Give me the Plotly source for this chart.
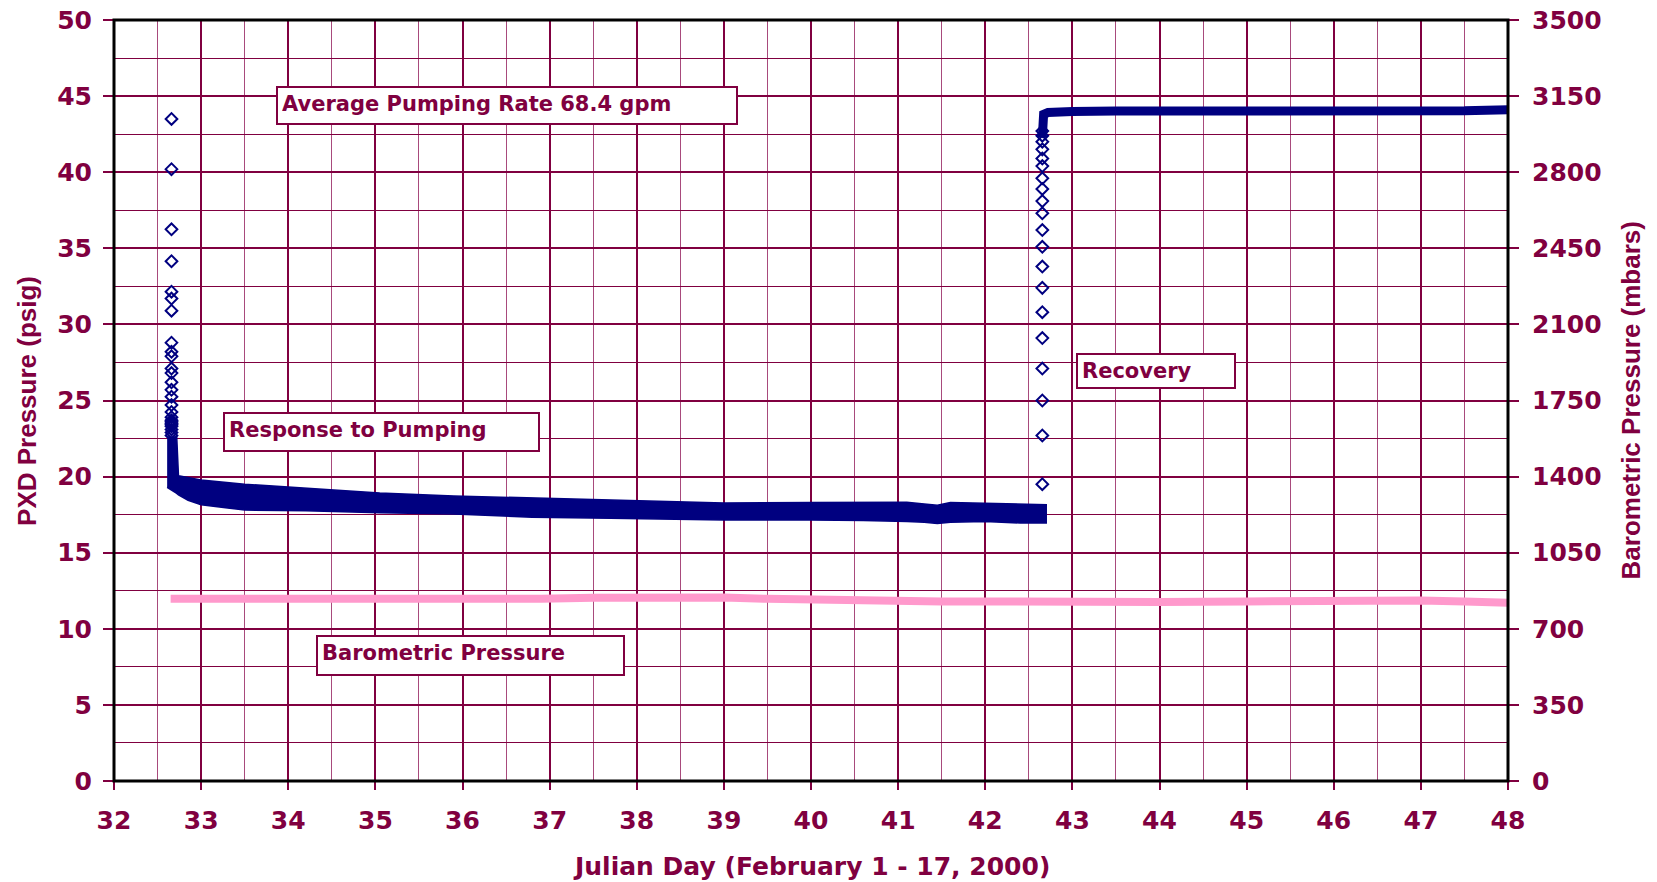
import plotly.graph_objects as go

# ---------------- data ----------------
pump_start_day = 32.66
start_psig = [43.5, 40.2, 36.25, 34.15, 32.15, 31.7, 30.9, 28.8, 28.2, 27.9, 27.1,
              26.8, 26.2, 25.7, 25.25, 24.7, 24.25, 23.9, 23.7, 23.6, 23.5, 23.4,
              23.3, 23.1, 22.9, 22.7]

# envelope of the dense pumping-period record
band_days = [32.61, 32.72, 32.74, 32.85, 33.0, 33.5, 34.2, 35.05, 35.9, 36.8, 37.7,
             39.0, 40.0, 40.6, 41.1, 41.3, 41.45, 41.6, 42.0, 42.4, 42.70]
band_upper = [22.6, 22.6, 20.05, 19.95, 19.78, 19.5, 19.25, 18.92, 18.73, 18.59, 18.46,
              18.27, 18.3, 18.33, 18.32, 18.2, 18.12, 18.3, 18.25, 18.2, 18.15]
band_lower = [19.3, 18.9, 18.8, 18.45, 18.15, 17.8, 17.75, 17.62, 17.55, 17.33, 17.26,
              17.15, 17.15, 17.12, 17.05, 17.0, 16.92, 17.0, 17.05, 16.95, 16.95]

recovery_day = 42.655
recovery_psig = [19.5, 22.7, 25.0, 27.1, 29.1, 30.8, 32.4, 33.8, 35.1, 36.2, 37.3,
                 38.1, 38.9, 39.6, 40.4, 40.9, 41.5, 42.0, 42.4, 42.7]

rec_line_days = [42.655, 42.655, 42.67, 42.72, 42.85, 43.0, 43.5, 44.0, 44.5, 45.0,
                 45.5, 46.0, 46.4, 47.0, 47.5, 48.0]
rec_line_psig = [42.3, 43.55, 43.8, 43.92, 43.97, 43.98, 44.02, 44.02, 44.03, 44.0,
                 44.0, 43.97, 43.9, 43.97, 44.03, 44.1]

baro_days = [32.65, 33.0, 34.0, 35.0, 36.0, 36.9, 37.5, 38.0, 39.0, 39.5, 40.0, 40.6,
             41.5, 42.3, 43.0, 43.3, 44.0, 45.0, 46.0, 46.6, 47.0, 47.5, 48.0]
baro_mbar = [838, 838, 834, 833, 834, 838, 843, 845, 844, 838, 834, 826,
             825, 826, 822, 818, 823, 826, 830, 832, 830, 826, 820]

x_ticks = list(range(32, 49))
y_ticks = list(range(0, 51, 5))
y2_ticks = list(range(0, 3501, 350))

# ---------------- styles ----------------
MAG = "#800040"
MAG_LIGHT = "#A84A7C"
NAVY = "#000080"
PINK = "#FF99CC"
TICKFONT = dict(family="DejaVu Sans", size=25, color=MAG, weight="bold")
ANN_FONT = dict(family="DejaVu Sans", size=21, color=MAG, weight="bold")
TITLEFONT = dict(family="Liberation Sans, Arial", size=26, color=MAG, weight="bold")

fig = go.Figure()

fig.add_trace(go.Scatter(x=baro_days, y=baro_mbar, yaxis="y2", mode="lines",
                         line=dict(color=PINK, width=8), hoverinfo="skip",
                         showlegend=False))

fig.add_trace(go.Scatter(x=band_days + band_days[::-1],
                         y=band_upper + band_lower[::-1],
                         mode="lines", fill="toself", fillcolor=NAVY,
                         line=dict(color=NAVY, width=1.5), showlegend=False))

fig.add_trace(go.Scatter(x=[pump_start_day] * len(start_psig), y=start_psig,
                         mode="markers",
                         marker=dict(symbol="diamond-open", size=9, color=NAVY,
                                     line=dict(width=2, color=NAVY)),
                         showlegend=False))

fig.add_trace(go.Scatter(x=[recovery_day] * len(recovery_psig), y=recovery_psig,
                         mode="markers",
                         marker=dict(symbol="diamond-open", size=9, color=NAVY,
                                     line=dict(width=2, color=NAVY)),
                         showlegend=False))

fig.add_trace(go.Scatter(x=rec_line_days, y=rec_line_psig, mode="lines",
                         line=dict(color=NAVY, width=9), showlegend=False))

common_axis = dict(ticks="outside", tickcolor=MAG, tickwidth=1.5,
                   tickfont=TICKFONT, zeroline=False, automargin=False,
                   ticklabeloverflow="allow")

fig.update_layout(
    width=1657, height=882,
    margin=dict(l=114, r=149, t=20, b=101),
    paper_bgcolor="white", plot_bgcolor="white",
    showlegend=False,
    xaxis=dict(range=[32, 48], tickvals=x_ticks, ticklen=8,
               showgrid=True, gridcolor=MAG, gridwidth=2,
               minor=dict(dtick=0.5, tick0=32, showgrid=True, gridcolor=MAG_LIGHT,
                          gridwidth=1, ticks=""),
               showline=False, ticklabelstandoff=9, **common_axis),
    yaxis=dict(range=[0, 50], tickvals=y_ticks, ticklen=10,
               showgrid=True, gridcolor=MAG, gridwidth=2,
               minor=dict(dtick=2.5, tick0=0, showgrid=True, gridcolor=MAG,
                          gridwidth=1, ticks=""),
               showline=False, ticklabelstandoff=6, **common_axis),
    yaxis2=dict(range=[0, 3500], tickvals=y2_ticks, ticklen=10, overlaying="y",
                side="right", showgrid=False, showline=False,
                ticklabelstandoff=8, **common_axis),
)

# black frame around the plotting area
fig.add_shape(type="rect", xref="paper", yref="paper", x0=0, y0=0, x1=1, y1=1,
              line=dict(color="black", width=3), layer="above")

def box(text, x, y, w, h):
    fig.add_annotation(text=text, x=x, y=y, xref="x", yref="y",
                       xanchor="left", yanchor="top", showarrow=False,
                       width=w - 12, height=h - 12, align="left", valign="top",
                       bgcolor="white", bordercolor=MAG, borderwidth=2,
                       borderpad=4, font=ANN_FONT)

box("Average Pumping Rate 68.4 gpm", 33.863, 45.68, 462, 39)
box("Response to Pumping", 33.248, 24.22, 317, 40)
box("Recovery", 43.04, 28.1, 160, 36)
box("Barometric Pressure", 34.315, 9.57, 309, 41)

fig.add_annotation(text="PXD Pressure (psig)", xref="paper", yref="paper",
                   x=-0.0628, y=0.5, xanchor="center", yanchor="middle",
                   textangle=-90, showarrow=False, font=TITLEFONT)
fig.add_annotation(text="Barometric Pressure (mbars)", xref="paper", yref="paper",
                   x=1.0882, y=0.5, xanchor="center", yanchor="middle",
                   textangle=-90, showarrow=False, font=TITLEFONT)
fig.add_annotation(text="Julian Day (February 1 - 17, 2000)", xref="paper",
                   yref="paper", x=0.5, y=-0.1125, xanchor="center",
                   yanchor="middle", showarrow=False,
                   font=dict(family="DejaVu Sans", size=25, color=MAG,
                             weight="bold"))

# remove the default 8px page margin so the figure fills the window exactly
fig.write_html("out.html",
               config={"displayModeBar": False},
               post_script="document.body.style.margin='0';"
                           "document.body.style.overflow='hidden';")
